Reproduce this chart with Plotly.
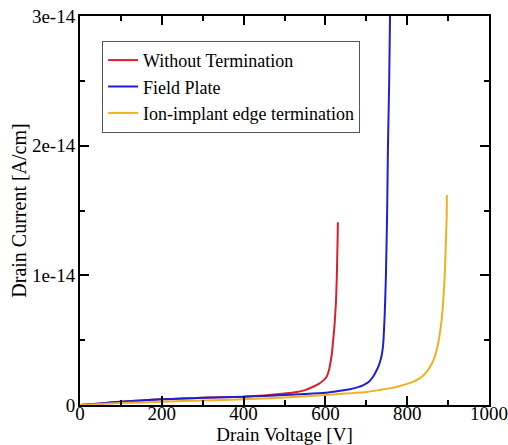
import plotly.graph_objects as go

# Data (current in units of 1e-14 A/cm)
red_v = [0, 50, 100, 150, 200, 250, 300, 350, 400, 450, 500, 530, 550, 570, 585, 595, 603, 608, 612, 616, 619, 622, 624, 626, 627, 628, 629, 630, 630.5]
red_i = [0, 0.012, 0.025, 0.035, 0.044, 0.05, 0.055, 0.06, 0.064, 0.074, 0.088, 0.1, 0.115, 0.141, 0.165, 0.19, 0.218, 0.26, 0.32, 0.4, 0.5, 0.6, 0.7, 0.8, 0.9, 1.0, 1.15, 1.3, 1.41]

blue_v = [0, 50, 100, 150, 200, 250, 300, 350, 400, 450, 500, 550, 600, 636, 660, 680, 693, 705, 712, 717, 724, 730, 736, 740, 742, 745, 748, 751, 753, 756, 758]
blue_i = [0, 0.012, 0.025, 0.035, 0.044, 0.05, 0.055, 0.06, 0.064, 0.07, 0.077, 0.085, 0.095, 0.11, 0.122, 0.138, 0.154, 0.175, 0.2, 0.22, 0.26, 0.3, 0.36, 0.43, 0.5, 0.7, 1.0, 1.5, 2.0, 2.5, 3.0]

orange_v = [0, 100, 200, 300, 400, 500, 603, 650, 700, 733, 760, 780, 800, 815, 830, 840, 850, 856, 864, 870, 876, 880, 884, 887, 889, 891, 893, 895, 896.5, 897]
orange_i = [0, 0.015, 0.025, 0.035, 0.044, 0.058, 0.077, 0.088, 0.1, 0.116, 0.13, 0.145, 0.163, 0.18, 0.205, 0.23, 0.265, 0.295, 0.345, 0.4, 0.48, 0.555, 0.65, 0.75, 0.85, 0.95, 1.1, 1.3, 1.45, 1.62]

names = ["Without Termination", "Field Plate", "Ion-implant edge termination"]
colors = ["#d9202a", "#1f1fd6", "#f0b020"]

x_ticks = [0, 200, 400, 600, 800, 1000]
y_ticks = [0, 1, 2, 3]
y_ticktext = ["0", "1e-14", "2e-14", "3e-14"]

scale = 1e-14

fig = go.Figure()
for vv, ii, nm, col in zip([red_v, blue_v, orange_v], [red_i, blue_i, orange_i], names, colors):
    fig.add_trace(go.Scatter(x=vv, y=[k * scale for k in ii], mode="lines", name=nm,
                             legendgroup=nm,
                             line=dict(color=col, width=2, shape="spline", smoothing=0.4)))

font = "Liberation Serif"
fig.update_layout(
    width=508, height=445,
    margin=dict(l=80, r=19, t=16, b=40, autoexpand=False),
    paper_bgcolor="white", plot_bgcolor="white",
    font=dict(family=font, size=19, color="black"),
    showlegend=True,
    legend=dict(x=0.054, y=0.936, xanchor="left", yanchor="top",
                bgcolor="white", bordercolor="#555555", borderwidth=1,
                font=dict(family=font, size=18), tracegroupgap=0,
                itemwidth=30),
)
fig.update_xaxes(
    range=[0, 1000], tickvals=x_ticks, ticktext=[str(t) for t in x_ticks],
    showgrid=False, zeroline=False, showline=True, linecolor="black", linewidth=2,
    mirror="allticks", ticks="inside", ticklen=9, tickwidth=2, tickcolor="black",
    minor=dict(ticks="inside", ticklen=5, tickwidth=2, dtick=100, tickcolor="black"),
    title=dict(text="Drain Voltage [V]", standoff=2, font=dict(size=19)),
    tickfont=dict(size=19), ticklabelstandoff=-10, automargin=False,
)
fig.update_yaxes(
    range=[0, 3e-14], tickvals=[t * scale for t in y_ticks], ticktext=y_ticktext,
    showgrid=False, zeroline=False, showline=True, linecolor="black", linewidth=2,
    mirror="allticks", ticks="inside", ticklen=9, tickwidth=2, tickcolor="black",
    minor=dict(ticks="inside", ticklen=5, tickwidth=2, dtick=0.5e-14, tickcolor="black"),
    title=dict(text="Drain Current [A/cm]", standoff=0, font=dict(size=20)),
    tickfont=dict(size=19), ticklabelstandoff=-1, automargin=False,
)
fig.write_html("out.html")
